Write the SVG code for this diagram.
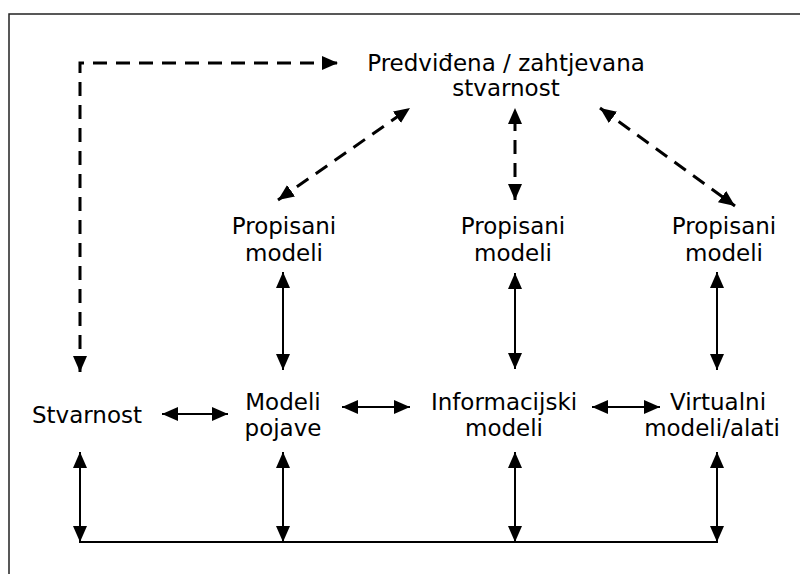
<svg xmlns="http://www.w3.org/2000/svg" width="800" height="574" viewBox="0 0 800 574">
<style>
  text { font-family: "DejaVu Sans", Verdana, sans-serif; font-size: 23px; fill: #000; text-anchor: middle; }
  .solid { stroke: #000; stroke-width: 2; fill: none; }
  .dash { stroke: #000; stroke-width: 3; fill: none; stroke-dasharray: 14 9; }
</style>
<defs>
  <marker id="ah" markerUnits="userSpaceOnUse" markerWidth="18" markerHeight="16" refX="16" refY="7" orient="auto-start-reverse">
    <path d="M0,0 L16,7 L0,14 Z" fill="#000"/>
  </marker>
</defs>
<rect width="800" height="574" fill="#fff"/>
<path d="M9,574 V14 H800" fill="none" stroke="#222" stroke-width="1.5"/>

<g id="connectors">
  <path class="dash" d="M80,372 V63 H338" marker-start="url(#ah)" marker-end="url(#ah)"/>
  <line class="dash" x1="278" y1="200" x2="410" y2="108" marker-start="url(#ah)" marker-end="url(#ah)"/>
  <line class="dash" x1="515" y1="200" x2="515" y2="108" marker-start="url(#ah)" marker-end="url(#ah)"/>
  <line class="dash" x1="600" y1="108" x2="735" y2="206" marker-start="url(#ah)" marker-end="url(#ah)"/>
  <line class="solid" x1="283" y1="272" x2="283" y2="370" marker-start="url(#ah)" marker-end="url(#ah)"/>
  <line class="solid" x1="515" y1="273" x2="515" y2="369" marker-start="url(#ah)" marker-end="url(#ah)"/>
  <line class="solid" x1="717" y1="272" x2="717" y2="370" marker-start="url(#ah)" marker-end="url(#ah)"/>
  <line class="solid" x1="162" y1="414" x2="228" y2="414" marker-start="url(#ah)" marker-end="url(#ah)"/>
  <line class="solid" x1="342" y1="407" x2="410" y2="407" marker-start="url(#ah)" marker-end="url(#ah)"/>
  <line class="solid" x1="592" y1="407" x2="660" y2="407" marker-start="url(#ah)" marker-end="url(#ah)"/>
  <line class="solid" x1="80" y1="452" x2="80" y2="542" marker-start="url(#ah)" marker-end="url(#ah)"/>
  <line class="solid" x1="283" y1="452" x2="283" y2="542" marker-start="url(#ah)" marker-end="url(#ah)"/>
  <line class="solid" x1="515" y1="452" x2="515" y2="542" marker-start="url(#ah)" marker-end="url(#ah)"/>
  <line class="solid" x1="717" y1="452" x2="717" y2="542" marker-start="url(#ah)" marker-end="url(#ah)"/>
  <line class="solid" x1="79" y1="542" x2="718" y2="542"/>
</g>

<g id="predvidena"><text x="506" y="71">Predviđena / zahtjevana</text><text x="506" y="96">stvarnost</text></g>
<g id="propisani1"><text x="284" y="234">Propisani</text><text x="284" y="261">modeli</text></g>
<g id="propisani2"><text x="513" y="234">Propisani</text><text x="513" y="261">modeli</text></g>
<g id="propisani3"><text x="724" y="234">Propisani</text><text x="724" y="261">modeli</text></g>
<g id="stvarnost"><text x="87" y="423">Stvarnost</text></g>
<g id="modeli-pojave"><text x="283" y="410">Modeli</text><text x="283" y="436">pojave</text></g>
<g id="informacijski"><text x="504" y="410">Informacijski</text><text x="504" y="436">modeli</text></g>
<g id="virtualni"><text x="718" y="410">Virtualni</text><text x="712" y="436">modeli/alati</text></g>
</svg>
